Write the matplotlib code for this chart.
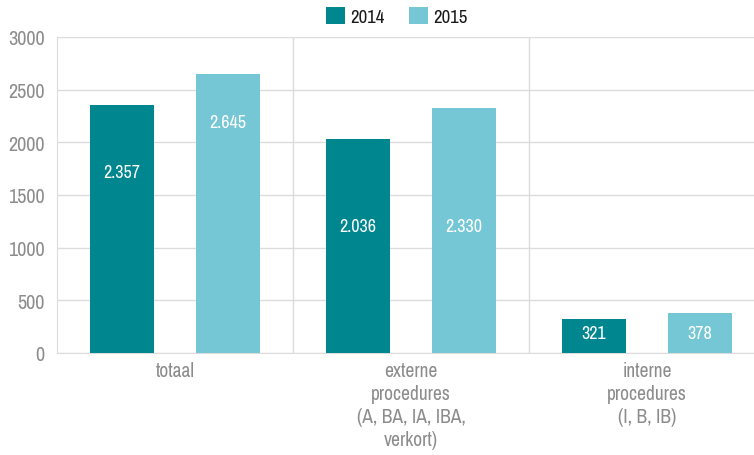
import matplotlib
matplotlib.use("Agg")
import matplotlib.pyplot as plt
import numpy as np
from matplotlib import font_manager

names = sorted({f.name for f in font_manager.fontManager.ttflist})
cands = [n for n in names if ('Narrow' in n or 'Condensed' in n or 'Cond' in n)]
chosen = cands[0] if cands else 'Roboto'
plt.rcParams['font.family'] = [chosen, 'DejaVu Sans']

categories = ["totaal", "externe\nprocedures\n(A, BA, IA, IBA,\nverkort)", "interne\nprocedures\n(I, B, IB)"]
series = ["2014", "2015"]
values_2014 = [2357, 2036, 321]
values_2015 = [2645, 2330, 378]
labels_2014 = ["2.357", "2.036", "321"]
labels_2015 = ["2.645", "2.330", "378"]
yticks = [0, 500, 1000, 1500, 2000, 2500, 3000]

# label vertical positions (style)
lab_y_2014 = [1718, 1206, 190]
lab_y_2015 = [2193, 1206, 190]

c2014 = "#00868F"
c2015 = "#76C7D5"
gray = "#8C8C8C"
grid = "#DCDCDC"

fig = plt.figure(figsize=(7.54, 4.56), dpi=100)
ax = fig.add_axes([57/754, (456-354)/456, 1 - 57/754, (354-38)/456])

x = np.arange(len(categories))
w = 0.271
off = 0.2246
b1 = ax.bar(x - off, values_2014, w, color=c2014, label=series[0], zorder=3)
b2 = ax.bar(x + off, values_2015, w, color=c2015, label=series[1], zorder=3)

for i in range(len(categories)):
    ax.text(x[i] - off, lab_y_2014[i], labels_2014[i], color="white", ha="center", va="center", fontsize=13, zorder=4)
    ax.text(x[i] + off, lab_y_2015[i], labels_2015[i], color="white", ha="center", va="center", fontsize=13, zorder=4)

ax.set_ylim(0, 3000)
ax.set_xlim(-0.5, 2.453)
ax.set_yticks(yticks)
ax.set_yticklabels([str(t) for t in yticks], color=gray, fontsize=14.5)
ax.set_xticks(x)
ax.set_xticklabels(categories, color=gray, fontsize=14, linespacing=1.27)
ax.tick_params(axis='both', length=0, pad=9)
ax.tick_params(axis='x', pad=6)

for t in yticks:
    ax.axhline(t, color=grid, lw=1, zorder=1)
for v in [0.5, 1.5]:
    ax.axvline(v, color=grid, lw=1, zorder=1)

for s in ['top', 'right']:
    ax.spines[s].set_visible(False)
ax.spines['left'].set_color(grid)
ax.spines['bottom'].set_color(grid)

leg = fig.legend(handles=[b1, b2], labels=series, loc='center', bbox_to_anchor=(397/754, 1 - 17/456),
                 ncol=2, frameon=False, fontsize=13.5, handlelength=1.0, handleheight=1.0,
                 columnspacing=1.3, handletextpad=0.3)
for t in leg.get_texts():
    t.set_color("#1a1a1a")

fig.savefig("out.png", dpi=100)
